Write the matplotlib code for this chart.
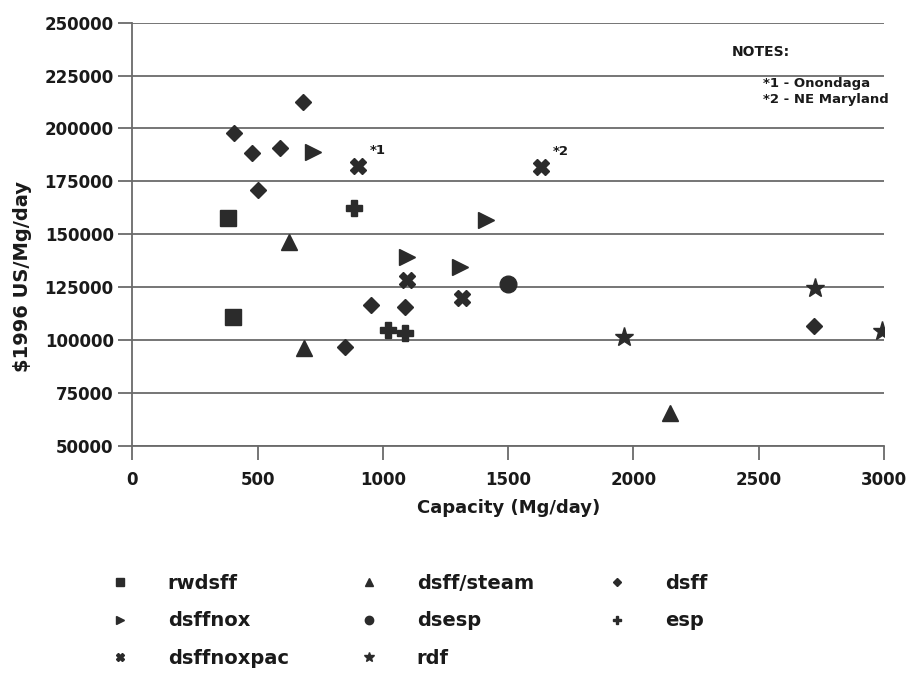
import matplotlib
matplotlib.use("Agg")
import matplotlib.pyplot as plt
from matplotlib.lines import Line2D

plt.rcParams["font.family"] = "DejaVu Sans"
plt.rcParams["font.weight"] = "bold"

# capacity (Mg/day) and cost ($1996 US per Mg/day) per technology
rwdsff_x = [382, 402]
rwdsff_y = [157600, 110800]
steam_x = [626, 684, 2144]
steam_y = [146500, 96200, 65700]
dsff_x = [406, 478, 588, 681, 502, 954, 1087, 850, 2722]
dsff_y = [198000, 188300, 190900, 212400, 171000, 116600, 115800, 96900, 106800]
nox_x = [721, 1094, 1306, 1413]
nox_y = [189000, 139400, 134700, 156800]
dsesp_x = [1499]
dsesp_y = [126500]
esp_x = [885, 1020, 1087]
esp_y = [162600, 104800, 103200]
noxpac_x = [901, 1094, 1317, 1632]
noxpac_y = [182300, 128400, 119800, 182000]
rdf_x = [1962, 2726, 2992]
rdf_y = [101600, 124500, 104500]

notes = ["*1 - Onondaga", "*2 - NE Maryland"]
yticks = [50000, 75000, 100000, 125000, 150000, 175000, 200000, 225000, 250000]
xticks = [0, 500, 1000, 1500, 2000, 2500, 3000]

INK = "#2b2b2b"
TXT = "#1a1a1a"
GRID = "#6a6a6a"

# (label, x, y, marker, plot size, legend size)
series = [
    ("rwdsff", rwdsff_x, rwdsff_y, "s", 12, 6),
    ("dsff/steam", steam_x, steam_y, "^", 12, 6),
    ("dsff", dsff_x, dsff_y, "D", 8, 4.5),
    ("dsffnox", nox_x, nox_y, ">", 12, 6),
    ("dsesp", dsesp_x, dsesp_y, "o", 12, 6),
    ("esp", esp_x, esp_y, "P", 12, 5.5),
    ("dsffnoxpac", noxpac_x, noxpac_y, "X", 12, 5.5),
    ("rdf", rdf_x, rdf_y, "*", 14, 7),
]

fig = plt.figure(figsize=(9.1, 6.86), dpi=100)
ax = fig.add_axes([0.1456, 0.3499, 0.8258, 0.6171])

handles = {}
for name, xs, ys, mk, ms, lms in series:
    ax.plot(xs, ys, ls="none", marker=mk, ms=ms, color=INK, mec=INK, zorder=3)
    handles[name] = Line2D([], [], ls="none", marker=mk, ms=lms,
                           color=INK, mec=INK)

# footnote tags on the two dsffnoxpac plants
ax.annotate("*1", (noxpac_x[0], noxpac_y[0]), xytext=(14, 11),
            textcoords="offset points", ha="center", va="center",
            fontsize=9.5, color=TXT)
ax.annotate("*2", (noxpac_x[3], noxpac_y[3]), xytext=(14, 11),
            textcoords="offset points", ha="center", va="center",
            fontsize=9.5, color=TXT)

ax.set_xlim(0, 3000)
ax.set_ylim(50000, 250000)
ax.set_xticks(xticks)
ax.set_yticks(yticks)
ax.grid(axis="y", color=GRID, lw=1.3)
ax.set_axisbelow(True)
for s in ("top", "right"):
    ax.spines[s].set_visible(False)
for s in ("left", "bottom"):
    ax.spines[s].set_color(GRID)
    ax.spines[s].set_linewidth(1.3)
ax.tick_params(axis="x", direction="out", length=10, width=1.3, color=GRID,
               pad=8, labelsize=12, labelcolor=TXT)
ax.tick_params(axis="y", direction="out", length=10, width=1.3, color=GRID,
               pad=3.5, labelsize=12, labelcolor=TXT)
for lab in ax.get_xticklabels() + ax.get_yticklabels():
    lab.set_fontweight("bold")

ax.set_xlabel("Capacity (Mg/day)", fontsize=13, fontweight="bold",
              color=TXT, labelpad=7)
ax.set_ylabel("\\$1996 US/Mg/day", fontsize=14, fontweight="bold", color=TXT)
ax.yaxis.set_label_coords(-0.134, 0.40)

# notes box, top right
fig.text(732 / 910, 1 - 52 / 686, "NOTES:", fontsize=10, fontweight="bold",
         color=TXT, va="center")
fig.text(763 / 910, 1 - 83 / 686, notes[0], fontsize=9.5, fontweight="bold",
         color=TXT, va="center")
fig.text(763 / 910, 1 - 100 / 686, notes[1], fontsize=9.5, fontweight="bold",
         color=TXT, va="center")

# legend in three columns below the plot
cols = [["rwdsff", "dsffnox", "dsffnoxpac"],
        ["dsff/steam", "dsesp", "rdf"],
        ["dsff", "esp"]]
marker_x = [120, 369, 617]
fs = 14
for names, mx in zip(cols, marker_x):
    left = (mx - fs * 100 / 72) / 910
    fig.legend([handles[n] for n in names], names, loc="upper left",
               bbox_to_anchor=(left, 1 - 574 / 686), frameon=False,
               borderpad=0, borderaxespad=0, handlelength=2,
               handletextpad=1.45, labelspacing=0.95,
               prop={"size": fs, "weight": "bold"}, labelcolor=TXT)

fig.savefig("out.png", dpi=100)
